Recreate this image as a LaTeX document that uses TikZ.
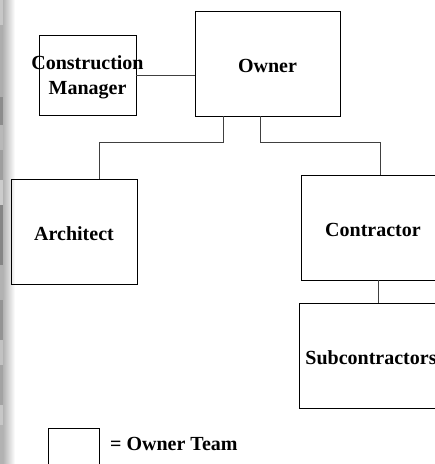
\documentclass[tikz,border=0pt]{standalone}
\usepackage{fontspec}
\setmainfont{Liberation Serif}
\usetikzlibrary{positioning}

\begin{document}
\begin{tikzpicture}[x=1pt, y=-1pt,
    box/.style={draw, line width=0.8pt, inner sep=0pt, minimum height=105pt},
    txt/.style={font=\fontsize{20}{25}\selectfont\bfseries, align=center, inner sep=0pt},
    link/.style={draw=black!75, line width=0.8pt}]
    \clip (0,0) rectangle (435,464);

    % Page edge
    \foreach \ya/\yb/\g in {0/25/22, 25/97/32, 97/125/45, 125/150/28, 150/180/38, 180/205/20, 205/265/48, 265/300/30, 300/340/42, 340/365/24, 365/405/36, 405/425/22, 425/464/30}
        \fill[black!\g] (0,\ya) rectangle (3,\yb);
    \shade[left color=black!30, right color=white] (3,0) rectangle (15,464);

    % Boxes
    \node[box, minimum width=97pt, minimum height=80pt] (cm) at (87.5,75) {};
    \node[txt] at ([yshift=-2pt]cm.center) {Construction\\Manager};
    \node[box, minimum width=145pt] (owner) at (267.5,63.5) {};
    \node[txt] at ([yshift=-2pt]owner.center) {Owner};
    \node[box, minimum width=126pt] (arch) at (74,231.5) {};
    \node[txt] at ([yshift=-2.5pt]arch.center) {Architect};
    \node[box, minimum width=144pt] (contr) at (373,227.5) {};
    \node[txt] at ([yshift=-2pt]contr.center) {Contractor};
    \node[box, minimum width=144pt] (sub) at (371,355.5) {};
    \node[txt] at ([yshift=-2.5pt]sub.center) {Subcontractors};

    % Legend
    \node[box, minimum width=51pt, minimum height=45pt] (key) at (73.5,450.5) {};
    \node[txt, anchor=west] (keytxt) at (110,444) {= Owner Team};

    % Lines
    \draw[link] (cm.east) -- (owner.west |- cm.east);
    \draw[link] ([xshift=-44.5pt]owner.south) -- ++(0,26) -| ([xshift=25pt]arch.north);
    \draw[link] ([xshift=-7.5pt]owner.south) -- ++(0,26) -| ([xshift=7pt]contr.north);
    \draw[link] ([xshift=5pt]contr.south) -- ([xshift=5pt]contr.south |- sub.north);
\end{tikzpicture}
\end{document}
